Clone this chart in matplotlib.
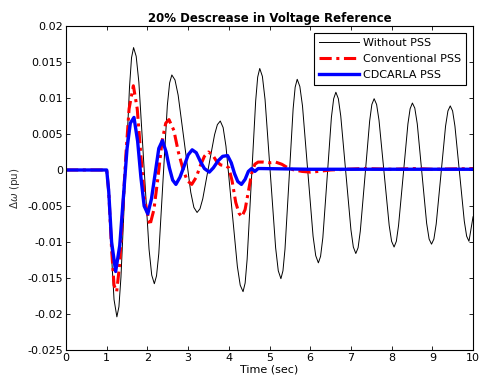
import matplotlib.pyplot as plt

# ====================== data ======================

t_without = [0.0, 1.0, 1.06, 1.12, 1.18, 1.25, 1.30,
             1.35, 1.455, 1.56, 1.61, 1.66, 1.724,
             1.79, 1.915, 2.04, 2.106, 2.17, 2.224,
             2.28, 2.385, 2.49, 2.546, 2.60, 2.678,
             2.755, 2.91, 3.065, 3.142, 3.22, 3.291,
             3.36, 3.505, 3.65, 3.719, 3.79, 3.86,
             3.93, 4.07, 4.21, 4.28, 4.35, 4.401,
             4.45, 4.555, 4.66, 4.709, 4.76, 4.825,
             4.89, 5.02, 5.15, 5.215, 5.28, 5.33,
             5.38, 5.48, 5.58, 5.63, 5.68, 5.745,
             5.81, 5.94, 6.07, 6.135, 6.20, 6.254,
             6.31, 6.415, 6.52, 6.576, 6.63, 6.691,
             6.75, 6.875, 7.0, 7.059, 7.12, 7.176,
             7.23, 7.345, 7.46, 7.514, 7.57, 7.631,
             7.69, 7.815, 7.94, 7.999, 8.06, 8.116,
             8.17, 8.285, 8.40, 8.454, 8.51, 8.569,
             8.63, 8.745, 8.86, 8.921, 8.98, 9.038,
             9.095, 9.21, 9.325, 9.383, 9.44, 9.498,
             9.555, 9.67, 9.785, 9.843, 9.90, 10.0]
w_without = [0.0, 0.0, -0.004, -0.012, -0.018, -0.0204, -0.0190,
             -0.0149, -0.0017, 0.0115, 0.0156, 0.0170, 0.0158,
             0.0122, 0.0006, -0.0110, -0.0146, -0.0158, -0.0147,
             -0.0116, -0.0013, 0.0090, 0.0121, 0.0132, 0.0125,
             0.0104, 0.0037, -0.0031, -0.0052, -0.0059, -0.0054,
             -0.0040, 0.0005, 0.0049, 0.0063, 0.0068, 0.0059,
             0.0033, -0.0051, -0.0134, -0.0160, -0.0169, -0.0157,
             -0.0124, -0.0014, 0.0096, 0.0129, 0.0141, 0.0130,
             0.0098, -0.0005, -0.0108, -0.0140, -0.0151, -0.0140,
             -0.0110, -0.0013, 0.0085, 0.0115, 0.0126, 0.0116,
             0.0089, -0.0002, -0.0092, -0.0119, -0.0129, -0.0120,
             -0.0094, -0.0011, 0.0073, 0.0099, 0.0108, 0.0099,
             0.0075, -0.0004, -0.0083, -0.0107, -0.0116, -0.0108,
             -0.0085, -0.0009, 0.0068, 0.0091, 0.0099, 0.0091,
             0.0069, -0.0004, -0.0077, -0.0099, -0.0107, -0.0099,
             -0.0077, -0.0007, 0.0064, 0.0085, 0.0093, 0.0086,
             0.0064, -0.0005, -0.0074, -0.0096, -0.0103, -0.0096,
             -0.0075, -0.0007, 0.0061, 0.0082, 0.0089, 0.0082,
             0.0061, -0.0005, -0.0071, -0.0092, -0.0099, -0.0065]

t_conv = [0.0, 1.0, 1.05, 1.12, 1.18, 1.245, 1.32, 1.40, 1.47, 1.55, 1.655,
          1.75, 1.84, 1.93, 2.06, 2.16, 2.26, 2.36, 2.45, 2.53, 2.65, 2.76,
          2.88, 2.98, 3.09, 3.20, 3.30, 3.40, 3.50, 3.60, 3.70, 3.80, 3.92,
          4.00, 4.08, 4.17, 4.25, 4.32, 4.40, 4.48, 4.56, 4.64, 4.72, 4.85,
          5.00, 5.15, 5.30, 5.45, 5.60, 5.80, 6.0, 6.2, 6.5, 7.3, 8.0, 8.6,
          9.0, 10.0]
w_conv = [0.0, 0.0, -0.003, -0.011, -0.016, -0.0169, -0.013, -0.005, 0.002,
          0.0085, 0.0117, 0.0085, 0.002, -0.004, -0.0077, -0.0055, -0.001,
          0.004, 0.0065, 0.0070, 0.0055, 0.0025, 0.0, -0.0015, -0.0020,
          -0.0010, 0.0006, 0.0019, 0.0025, 0.0021, 0.0012, 0.0007, 0.0006,
          0.0003, -0.0015, -0.0045, -0.0060, -0.0065, -0.0055, -0.0030,
          -0.0005, 0.0008, 0.0011, 0.0011, 0.0010, 0.0011, 0.0008, 0.0003,
          0.0, -0.0002, -0.0003, -0.0002, 0.0, 0.0002, 0.0001, 0.0002,
          0.0001, 0.0002]

t_cdcarla = [0.0, 1.0, 1.05, 1.12, 1.22, 1.32, 1.42, 1.50, 1.58, 1.67, 1.76,
             1.84, 1.92, 2.01, 2.10, 2.19, 2.28, 2.37, 2.46, 2.54, 2.62,
             2.70, 2.80, 2.90, 3.00, 3.10, 3.20, 3.30, 3.40, 3.52, 3.62,
             3.74, 3.85, 3.97, 4.06, 4.14, 4.22, 4.31, 4.40, 4.48, 4.56,
             4.64, 4.72, 4.8, 6.0, 10.0]
w_cdcarla = [0.0, 0.0, -0.003, -0.010, -0.0141, -0.0105, -0.003, 0.003,
             0.0065, 0.0073, 0.0040, -0.001, -0.0050, -0.0061, -0.0040,
             -0.0005, 0.0030, 0.0041, 0.0025, 0.0003, -0.0014, -0.0020,
             -0.0010, 0.0005, 0.0021, 0.0028, 0.0024, 0.0012, 0.0002,
             -0.0003, 0.0003, 0.0013, 0.0019, 0.0020, 0.0010, -0.0005,
             -0.0016, -0.0020, -0.0013, -0.0002, 0.0002, -0.0002, 0.0002,
             0.0002, 0.0001, 0.0001]

x_ticks = [0, 1, 2, 3, 4, 5, 6, 7, 8, 9, 10]
y_ticks = [-0.025, -0.02, -0.015, -0.01, -0.005, 0, 0.005, 0.01, 0.015, 0.02]
y_labels = ['-0.025', '-0.02', '-0.015', '-0.01', '-0.005', '0',
            '0.005', '0.01', '0.015', '0.02']

# === plot ===

fig = plt.figure(figsize=(4.8, 3.88), dpi=100)
ax = fig.add_axes([0.1375, 0.098, 0.848, 0.835])

ax.plot(t_without, w_without, color='black', lw=0.7, label='Without PSS')
ax.plot(t_conv, w_conv, color='red', lw=2.2, ls=(0, (4, 1.5, 1, 1.5)),
        label='Conventional PSS')
ax.plot(t_cdcarla, w_cdcarla, color='blue', lw=2.4, label='CDCARLA PSS')

ax.set_xlim(0, 10)
ax.set_ylim(-0.025, 0.02)
ax.set_xticks(x_ticks)
ax.set_yticks(y_ticks)
ax.set_yticklabels(y_labels)
ax.tick_params(direction='in', top=True, right=True, labelsize=8,
               length=3, width=0.6, pad=2)
for s in ax.spines.values():
    s.set_linewidth(0.8)

ax.set_xlabel('Time (sec)', fontsize=8, labelpad=1)
ax.set_ylabel(r'$\Delta\omega$ (pu)', fontsize=7.5, color='#333333', labelpad=4)
ax.set_title('20% Descrease in Voltage Reference', fontsize=8.5,
             fontweight='bold', pad=3)

leg = ax.legend(loc='upper right', fontsize=8, fancybox=False,
                edgecolor='black', framealpha=1, borderaxespad=0.6,
                handlelength=3.6, labelspacing=0.55, borderpad=0.45,
                handletextpad=0.4)
leg.get_frame().set_linewidth(0.8)

plt.savefig('out.png', dpi=100)
